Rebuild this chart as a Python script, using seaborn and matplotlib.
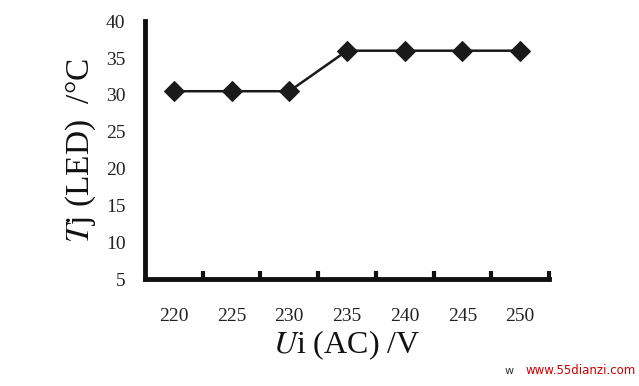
import matplotlib
matplotlib.use("Agg")
import matplotlib.pyplot as plt
import seaborn as sns
import pandas as pd
import numpy as np

voltage = [220, 225, 230, 235, 240, 245, 250]
tj = [30.5, 30.5, 30.5, 36, 36, 36, 36]
yticks = [5, 10, 15, 20, 25, 30, 35, 40]

sns.set_theme(style="white")
plt.rcParams['font.family'] = ['Liberation Serif', 'DejaVu Serif', 'DejaVu Sans']
plt.rcParams['mathtext.fontset'] = 'stix'

df = pd.DataFrame({"U": voltage, "Tj": tj})

fig = plt.figure(figsize=(6.39, 3.86), dpi=100)
ax = fig.add_axes([0.227, 0.277, 0.632, 0.668])
sns.lineplot(data=df, x="U", y="Tj", ax=ax, color="#1a1a1a", linewidth=1.8,
             marker="D", markersize=10.5, markeredgecolor="#1a1a1a",
             markerfacecolor="#1a1a1a")

ax.set_xlim(voltage[0] - 2.5, voltage[-1] + 2.5)
ax.set_ylim(5, 40)
ax.set_yticks(yticks)
ax.set_yticklabels([str(v) for v in yticks], fontsize=14, color="#222222")
ax.set_xticks(voltage)
ax.set_xticklabels([str(v) for v in voltage], fontsize=14, color="#222222")
ax.set_xticks([v + 2.5 for v in voltage], minor=True)

for s in ["top", "right"]:
    ax.spines[s].set_visible(False)
for s in ["left", "bottom"]:
    ax.spines[s].set_linewidth(3.5)
    ax.spines[s].set_color("#111111")

ax.tick_params(axis="y", which="major", direction="in", length=6, width=3,
               color="#111111", pad=14)
ax.tick_params(axis="x", which="major", length=0, pad=21)
ax.tick_params(axis="x", which="minor", direction="in", length=6, width=3,
               color="#111111", bottom=True)

ax.set_xlabel(r"$U$i (AC) /V", fontsize=23, labelpad=2, color="#111111")
ax.set_ylabel(r"$T$j (LED)  /°C", fontsize=24, labelpad=6, color="#111111")

fig.text(0.79, 0.03, "w", fontsize=8, color="#333333", family="DejaVu Sans")
fig.text(0.822, 0.03, "www.55dianzi.com", fontsize=8.5, color="#cc0000",
         family="DejaVu Sans")

fig.savefig("out.png", dpi=100)
